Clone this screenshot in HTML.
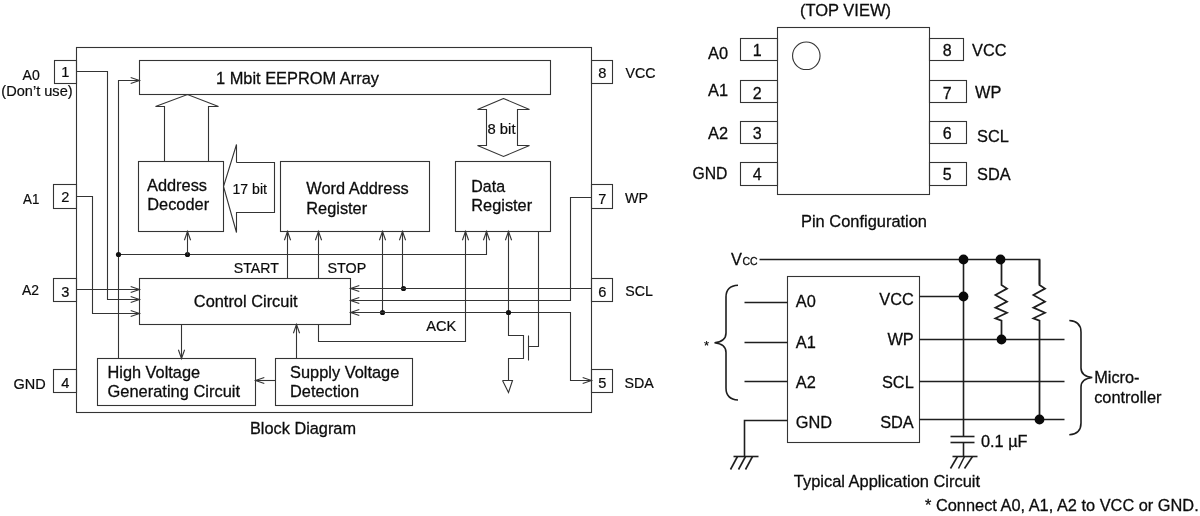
<!DOCTYPE html>
<html><head><meta charset="utf-8"><title>Block Diagram / Pin Configuration</title>
<style>
html,body{margin:0;padding:0;background:#fff;}
body{width:1200px;height:516px;overflow:hidden;}
svg{display:block;filter:blur(0.3px);}
svg text{font-family:"Liberation Sans",Arial,Helvetica,sans-serif;}
</style></head><body>
<svg width="1200" height="516" viewBox="0 0 1200 516">
<rect width="1200" height="516" fill="#ffffff"/>
<rect x="76.5" y="47.5" width="515.0" height="365.0" fill="none" stroke="#343434" stroke-width="1.1"/>
<rect x="54.5" y="60.5" width="22.0" height="23.0" fill="none" stroke="#343434" stroke-width="1.1"/>
<text x="65.2" y="77.4" font-size="14.6" text-anchor="middle" fill="#0c0c0c" stroke="#0c0c0c" stroke-width="0.2" >1</text>
<rect x="53.5" y="184.5" width="23.0" height="24.0" fill="none" stroke="#343434" stroke-width="1.1"/>
<text x="65.2" y="202.29999999999998" font-size="14.6" text-anchor="middle" fill="#0c0c0c" stroke="#0c0c0c" stroke-width="0.2" >2</text>
<rect x="53.5" y="278.5" width="23.0" height="23.0" fill="none" stroke="#343434" stroke-width="1.1"/>
<text x="65.2" y="297.4" font-size="14.6" text-anchor="middle" fill="#0c0c0c" stroke="#0c0c0c" stroke-width="0.2" >3</text>
<rect x="53.5" y="369.5" width="23.0" height="23.0" fill="none" stroke="#343434" stroke-width="1.1"/>
<text x="65.2" y="388.45" font-size="14.6" text-anchor="middle" fill="#0c0c0c" stroke="#0c0c0c" stroke-width="0.2" >4</text>
<rect x="591.5" y="60.5" width="21.0" height="23.0" fill="none" stroke="#343434" stroke-width="1.1"/>
<text x="602.2" y="77.7" font-size="14.6" text-anchor="middle" fill="#0c0c0c" stroke="#0c0c0c" stroke-width="0.2" >8</text>
<rect x="591.5" y="184.5" width="21.0" height="24.0" fill="none" stroke="#343434" stroke-width="1.1"/>
<text x="602.2" y="203.95" font-size="14.6" text-anchor="middle" fill="#0c0c0c" stroke="#0c0c0c" stroke-width="0.2" >7</text>
<rect x="591.5" y="278.5" width="21.0" height="23.0" fill="none" stroke="#343434" stroke-width="1.1"/>
<text x="602.2" y="297.15" font-size="14.6" text-anchor="middle" fill="#0c0c0c" stroke="#0c0c0c" stroke-width="0.2" >6</text>
<rect x="591.5" y="369.5" width="21.0" height="23.0" fill="none" stroke="#343434" stroke-width="1.1"/>
<text x="602.2" y="387.75" font-size="14.6" text-anchor="middle" fill="#0c0c0c" stroke="#0c0c0c" stroke-width="0.2" >5</text>
<text x="22.6" y="79.8" font-size="14.3" text-anchor="start" fill="#0c0c0c" stroke="#0c0c0c" stroke-width="0.2" textLength="17.2" lengthAdjust="spacingAndGlyphs" >A0</text>
<text x="1.3" y="96.4" font-size="14.3" text-anchor="start" fill="#0c0c0c" stroke="#0c0c0c" stroke-width="0.2" textLength="71.3" lengthAdjust="spacingAndGlyphs" >(Don’t use)</text>
<text x="23" y="203.6" font-size="14.3" text-anchor="start" fill="#0c0c0c" stroke="#0c0c0c" stroke-width="0.2" textLength="16.3" lengthAdjust="spacingAndGlyphs" >A1</text>
<text x="22" y="294.5" font-size="14.3" text-anchor="start" fill="#0c0c0c" stroke="#0c0c0c" stroke-width="0.2" textLength="17" lengthAdjust="spacingAndGlyphs" >A2</text>
<text x="13.6" y="388.6" font-size="14.3" text-anchor="start" fill="#0c0c0c" stroke="#0c0c0c" stroke-width="0.2" textLength="32.2" lengthAdjust="spacingAndGlyphs" >GND</text>
<text x="625.5" y="77.7" font-size="14.3" text-anchor="start" fill="#0c0c0c" stroke="#0c0c0c" stroke-width="0.2" textLength="30" lengthAdjust="spacingAndGlyphs" >VCC</text>
<text x="625" y="202.6" font-size="14.3" text-anchor="start" fill="#0c0c0c" stroke="#0c0c0c" stroke-width="0.2" >WP</text>
<text x="625.3" y="295.5" font-size="14.3" text-anchor="start" fill="#0c0c0c" stroke="#0c0c0c" stroke-width="0.2" textLength="27.6" lengthAdjust="spacingAndGlyphs" >SCL</text>
<text x="624.5" y="388.3" font-size="14.3" text-anchor="start" fill="#0c0c0c" stroke="#0c0c0c" stroke-width="0.2" textLength="29.3" lengthAdjust="spacingAndGlyphs" >SDA</text>
<rect x="139.5" y="60.5" width="411.0" height="34.0" fill="none" stroke="#343434" stroke-width="1.1"/>
<rect x="138.5" y="161.5" width="85.0" height="70.0" fill="none" stroke="#343434" stroke-width="1.1"/>
<rect x="280.5" y="161.5" width="149.0" height="70.0" fill="none" stroke="#343434" stroke-width="1.1"/>
<rect x="455.5" y="161.5" width="95.0" height="70.0" fill="none" stroke="#343434" stroke-width="1.1"/>
<rect x="139.5" y="278.5" width="211.0" height="46.0" fill="none" stroke="#343434" stroke-width="1.1"/>
<rect x="97.5" y="358.5" width="158.0" height="47.0" fill="none" stroke="#343434" stroke-width="1.1"/>
<rect x="275.5" y="358.5" width="137.0" height="47.0" fill="none" stroke="#343434" stroke-width="1.1"/>
<text x="216" y="83.5" font-size="16.35" text-anchor="start" fill="#0c0c0c" stroke="#0c0c0c" stroke-width="0.28" textLength="163" lengthAdjust="spacingAndGlyphs" >1 Mbit EEPROM Array</text>
<text x="147" y="190.8" font-size="16.35" text-anchor="start" fill="#0c0c0c" stroke="#0c0c0c" stroke-width="0.28" textLength="60" lengthAdjust="spacingAndGlyphs" >Address</text>
<text x="147.3" y="209.7" font-size="16.35" text-anchor="start" fill="#0c0c0c" stroke="#0c0c0c" stroke-width="0.28" textLength="61.8" lengthAdjust="spacingAndGlyphs" >Decoder</text>
<text x="306.3" y="193.5" font-size="16.35" text-anchor="start" fill="#0c0c0c" stroke="#0c0c0c" stroke-width="0.28" textLength="102.5" lengthAdjust="spacingAndGlyphs" >Word Address</text>
<text x="306.3" y="213.5" font-size="16.35" text-anchor="start" fill="#0c0c0c" stroke="#0c0c0c" stroke-width="0.28" textLength="60.8" lengthAdjust="spacingAndGlyphs" >Register</text>
<text x="471.3" y="191.5" font-size="16.35" text-anchor="start" fill="#0c0c0c" stroke="#0c0c0c" stroke-width="0.28" textLength="33.8" lengthAdjust="spacingAndGlyphs" >Data</text>
<text x="471.3" y="211.1" font-size="16.35" text-anchor="start" fill="#0c0c0c" stroke="#0c0c0c" stroke-width="0.28" textLength="60.8" lengthAdjust="spacingAndGlyphs" >Register</text>
<text x="193.8" y="307.1" font-size="16.35" text-anchor="start" fill="#0c0c0c" stroke="#0c0c0c" stroke-width="0.28" textLength="103.8" lengthAdjust="spacingAndGlyphs" >Control Circuit</text>
<text x="107.5" y="377.5" font-size="16.35" text-anchor="start" fill="#0c0c0c" stroke="#0c0c0c" stroke-width="0.28" textLength="92.6" lengthAdjust="spacingAndGlyphs" >High Voltage</text>
<text x="107.5" y="396.8" font-size="16.35" text-anchor="start" fill="#0c0c0c" stroke="#0c0c0c" stroke-width="0.28" textLength="132.5" lengthAdjust="spacingAndGlyphs" >Generating Circuit</text>
<text x="290" y="378.4" font-size="16.35" text-anchor="start" fill="#0c0c0c" stroke="#0c0c0c" stroke-width="0.28" textLength="109.3" lengthAdjust="spacingAndGlyphs" >Supply Voltage</text>
<text x="290" y="397" font-size="16.35" text-anchor="start" fill="#0c0c0c" stroke="#0c0c0c" stroke-width="0.28" >Detection</text>
<text x="233.8" y="272.5" font-size="14.3" text-anchor="start" fill="#0c0c0c" stroke="#0c0c0c" stroke-width="0.2" textLength="45" lengthAdjust="spacingAndGlyphs" >START</text>
<text x="327.5" y="272.5" font-size="14.3" text-anchor="start" fill="#0c0c0c" stroke="#0c0c0c" stroke-width="0.2" textLength="38.8" lengthAdjust="spacingAndGlyphs" >STOP</text>
<text x="426.3" y="331" font-size="14.3" text-anchor="start" fill="#0c0c0c" stroke="#0c0c0c" stroke-width="0.2" textLength="30" lengthAdjust="spacingAndGlyphs" >ACK</text>
<text x="232.5" y="193.5" font-size="14.3" text-anchor="start" fill="#0c0c0c" stroke="#0c0c0c" stroke-width="0.2" textLength="34.5" lengthAdjust="spacingAndGlyphs" >17 bit</text>
<text x="487.5" y="134.4" font-size="14.3" text-anchor="start" fill="#0c0c0c" stroke="#0c0c0c" stroke-width="0.2" textLength="28" lengthAdjust="spacingAndGlyphs" >8 bit</text>
<text x="250" y="433.9" font-size="16.35" text-anchor="start" fill="#0c0c0c" stroke="#0c0c0c" stroke-width="0.28" textLength="106" lengthAdjust="spacingAndGlyphs" >Block Diagram</text>
<path d="M76.5,71.5 L107.5,71.5 L107.5,299.5 L139.5,299.5" fill="none" stroke="#343434" stroke-width="1.1" />
<path d="M130.7,296.4 L139.5,299.5 L130.7,302.6" fill="none" stroke="#343434" stroke-width="1.1" />
<path d="M76.5,196.5 L92.5,196.5 L92.5,313.5 L139.5,313.5" fill="none" stroke="#343434" stroke-width="1.1" />
<path d="M130.7,310.4 L139.5,313.5 L130.7,316.6" fill="none" stroke="#343434" stroke-width="1.1" />
<path d="M76.5,289.5 L139.5,289.5" fill="none" stroke="#343434" stroke-width="1.1" />
<path d="M130.7,286.4 L139.5,289.5 L130.7,292.6" fill="none" stroke="#343434" stroke-width="1.1" />
<path d="M139.5,80.5 L118.5,80.5 L118.5,358.5" fill="none" stroke="#343434" stroke-width="1.1" />
<path d="M130.7,77.4 L139.5,80.5 L130.7,83.6" fill="none" stroke="#343434" stroke-width="1.1" />
<path d="M118.5,254.5 L486.5,254.5 L486.5,231.5" fill="none" stroke="#343434" stroke-width="1.1" />
<path d="M483.4,240.3 L486.5,231.5 L489.6,240.3" fill="none" stroke="#343434" stroke-width="1.1" />
<circle cx="118.5" cy="254.5" r="2.6" fill="#111"/>
<circle cx="187.5" cy="254.5" r="2.6" fill="#111"/>
<path d="M187.5,254.5 L187.5,231.5" fill="none" stroke="#343434" stroke-width="1.1" />
<path d="M184.4,240.3 L187.5,231.5 L190.6,240.3" fill="none" stroke="#343434" stroke-width="1.1" />
<path d="M287.5,278.5 L287.5,231.5" fill="none" stroke="#343434" stroke-width="1.1" />
<path d="M284.4,240.3 L287.5,231.5 L290.6,240.3" fill="none" stroke="#343434" stroke-width="1.1" />
<path d="M318.5,278.5 L318.5,231.5" fill="none" stroke="#343434" stroke-width="1.1" />
<path d="M315.4,240.3 L318.5,231.5 L321.6,240.3" fill="none" stroke="#343434" stroke-width="1.1" />
<path d="M382.5,312.5 L382.5,231.5" fill="none" stroke="#343434" stroke-width="1.1" />
<path d="M379.4,240.3 L382.5,231.5 L385.6,240.3" fill="none" stroke="#343434" stroke-width="1.1" />
<circle cx="382.5" cy="312.5" r="2.6" fill="#111"/>
<path d="M402.5,288.5 L402.5,231.5" fill="none" stroke="#343434" stroke-width="1.1" />
<path d="M399.4,240.3 L402.5,231.5 L405.6,240.3" fill="none" stroke="#343434" stroke-width="1.1" />
<circle cx="403.5" cy="288.5" r="2.6" fill="#111"/>
<path d="M591.5,288.5 L350.5,288.5" fill="none" stroke="#343434" stroke-width="1.1" />
<path d="M359.3,285.4 L350.5,288.5 L359.3,291.6" fill="none" stroke="#343434" stroke-width="1.1" />
<path d="M591.5,197.5 L570.5,197.5 L570.5,300.5 L350.5,300.5" fill="none" stroke="#343434" stroke-width="1.1" />
<path d="M359.3,297.4 L350.5,300.5 L359.3,303.6" fill="none" stroke="#343434" stroke-width="1.1" />
<path d="M350.5,312.5 L570.5,312.5 L570.5,380.5 L591.5,380.5" fill="none" stroke="#343434" stroke-width="1.1" />
<path d="M359.3,309.4 L350.5,312.5 L359.3,315.6" fill="none" stroke="#343434" stroke-width="1.1" />
<path d="M582.7,377.4 L591.5,380.5 L582.7,383.6" fill="none" stroke="#343434" stroke-width="1.1" />
<path d="M318.5,324.5 L318.5,341.5 L465.5,341.5 L465.5,231.5" fill="none" stroke="#343434" stroke-width="1.1" />
<path d="M462.4,240.3 L465.5,231.5 L468.6,240.3" fill="none" stroke="#343434" stroke-width="1.1" />
<path d="M508.5,231.5 L508.5,335.5 L523.5,335.5 L523.5,358.5 L508.5,358.5 L508.5,380.5" fill="none" stroke="#343434" stroke-width="1.1" />
<path d="M505.4,240.3 L508.5,231.5 L511.6,240.3" fill="none" stroke="#343434" stroke-width="1.1" />
<circle cx="508.5" cy="312.5" r="2.6" fill="#111"/>
<path d="M528.5,335.5 L528.5,360.5" fill="none" stroke="#343434" stroke-width="1.1" />
<path d="M528.5,346.5 L538.5,346.5 L538.5,231.5" fill="none" stroke="#343434" stroke-width="1.1" />
<path d="M502.5,380.5 L512.5,380.5 L508.5,392.5 L502.5,380.5" fill="none" stroke="#343434" stroke-width="1.1" />
<path d="M181.5,324.5 L181.5,358.5" fill="none" stroke="#343434" stroke-width="1.1" />
<path d="M178.4,349.7 L181.5,358.5 L184.6,349.7" fill="none" stroke="#343434" stroke-width="1.1" />
<path d="M296.5,358.5 L296.5,324.5" fill="none" stroke="#343434" stroke-width="1.1" />
<path d="M293.4,333.3 L296.5,324.5 L299.6,333.3" fill="none" stroke="#343434" stroke-width="1.1" />
<path d="M275.5,380.5 L255.5,380.5" fill="none" stroke="#343434" stroke-width="1.1" />
<path d="M264.3,377.4 L255.5,380.5 L264.3,383.6" fill="none" stroke="#343434" stroke-width="1.1" />
<path d="M164.5,161.5 L164.5,106.5 L155.5,106.5 L187.5,94.5 L218.5,106.5 L208.5,106.5 L208.5,161.5" fill="none" stroke="#343434" stroke-width="1.1" />
<path d="M236.5,162.5 L274.5,162.5 L274.5,212.5 L236.5,212.5 L236.5,232.5 L223.5,186.5 L236.5,144.5 L236.5,162.5" fill="none" stroke="#343434" stroke-width="1.1" />
<path d="M503.5,98.5 L529.5,109.5 L517.5,109.5 L517.5,145.5 L529.5,145.5 L503.5,156.5 L477.5,145.5 L486.5,145.5 L486.5,109.5 L477.5,109.5 L503.5,98.5" fill="none" stroke="#343434" stroke-width="1.1" />
<rect x="777.5" y="27.5" width="152.0" height="167.0" fill="none" stroke="#343434" stroke-width="1.1"/>
<rect x="740.5" y="38.5" width="37.0" height="22.0" fill="none" stroke="#343434" stroke-width="1.1"/>
<text x="757.3" y="56.15" font-size="16" text-anchor="middle" fill="#0c0c0c" stroke="#0c0c0c" stroke-width="0.28" >1</text>
<rect x="740.5" y="80.5" width="37.0" height="22.0" fill="none" stroke="#343434" stroke-width="1.1"/>
<text x="757.3" y="98.55" font-size="16" text-anchor="middle" fill="#0c0c0c" stroke="#0c0c0c" stroke-width="0.28" >2</text>
<rect x="740.5" y="121.5" width="37.0" height="22.0" fill="none" stroke="#343434" stroke-width="1.1"/>
<text x="757.3" y="139.04999999999998" font-size="16" text-anchor="middle" fill="#0c0c0c" stroke="#0c0c0c" stroke-width="0.28" >3</text>
<rect x="740.5" y="162.5" width="37.0" height="23.0" fill="none" stroke="#343434" stroke-width="1.1"/>
<text x="757.3" y="179.55" font-size="16" text-anchor="middle" fill="#0c0c0c" stroke="#0c0c0c" stroke-width="0.28" >4</text>
<rect x="929.5" y="38.5" width="34.0" height="22.0" fill="none" stroke="#343434" stroke-width="1.1"/>
<text x="947.2" y="55.95" font-size="16" text-anchor="middle" fill="#0c0c0c" stroke="#0c0c0c" stroke-width="0.28" >8</text>
<rect x="929.5" y="80.5" width="37.0" height="22.0" fill="none" stroke="#343434" stroke-width="1.1"/>
<text x="947.2" y="98.55" font-size="16" text-anchor="middle" fill="#0c0c0c" stroke="#0c0c0c" stroke-width="0.28" >7</text>
<rect x="929.5" y="121.5" width="37.0" height="22.0" fill="none" stroke="#343434" stroke-width="1.1"/>
<text x="947.2" y="139.04999999999998" font-size="16" text-anchor="middle" fill="#0c0c0c" stroke="#0c0c0c" stroke-width="0.28" >6</text>
<rect x="929.5" y="162.5" width="37.0" height="23.0" fill="none" stroke="#343434" stroke-width="1.1"/>
<text x="947.2" y="180.15" font-size="16" text-anchor="middle" fill="#0c0c0c" stroke="#0c0c0c" stroke-width="0.28" >5</text>
<circle cx="806.3" cy="55.8" r="13.75" fill="none" stroke="#343434" stroke-width="1.1"/>
<text x="800" y="16" font-size="16.35" text-anchor="start" fill="#0c0c0c" stroke="#0c0c0c" stroke-width="0.28" textLength="91" lengthAdjust="spacingAndGlyphs" >(TOP VIEW)</text>
<text x="708" y="58.6" font-size="16.35" text-anchor="start" fill="#0c0c0c" stroke="#0c0c0c" stroke-width="0.28" textLength="20" lengthAdjust="spacingAndGlyphs" >A0</text>
<text x="708" y="96.3" font-size="16.35" text-anchor="start" fill="#0c0c0c" stroke="#0c0c0c" stroke-width="0.28" >A1</text>
<text x="708" y="138.8" font-size="16.35" text-anchor="start" fill="#0c0c0c" stroke="#0c0c0c" stroke-width="0.28" >A2</text>
<text x="692.5" y="179.3" font-size="16.35" text-anchor="start" fill="#0c0c0c" stroke="#0c0c0c" stroke-width="0.28" textLength="35" lengthAdjust="spacingAndGlyphs" >GND</text>
<text x="972" y="56.3" font-size="16.35" text-anchor="start" fill="#0c0c0c" stroke="#0c0c0c" stroke-width="0.28" >VCC</text>
<text x="975" y="98.3" font-size="16.35" text-anchor="start" fill="#0c0c0c" stroke="#0c0c0c" stroke-width="0.28" >WP</text>
<text x="977" y="142" font-size="16.35" text-anchor="start" fill="#0c0c0c" stroke="#0c0c0c" stroke-width="0.28" >SCL</text>
<text x="977" y="180" font-size="16.35" text-anchor="start" fill="#0c0c0c" stroke="#0c0c0c" stroke-width="0.28" >SDA</text>
<text x="801" y="227.2" font-size="16.35" text-anchor="start" fill="#0c0c0c" stroke="#0c0c0c" stroke-width="0.28" textLength="126" lengthAdjust="spacingAndGlyphs" >Pin Configuration</text>
<rect x="787.5" y="276.5" width="132.0" height="166.0" fill="none" stroke="#343434" stroke-width="1.1"/>
<path d="M759.5,259.5 L1039.5,259.5 L1039.5,284.5" fill="none" stroke="#1e1e1e" stroke-width="1.6" />
<path d="M963.5,259.5 L963.5,436.5" fill="none" stroke="#1e1e1e" stroke-width="1.6" />
<path d="M950.5,436.5 L974.5,436.5" fill="none" stroke="#1e1e1e" stroke-width="1.6" />
<path d="M950.5,442.5 L974.5,442.5" fill="none" stroke="#1e1e1e" stroke-width="1.6" />
<path d="M963.5,442.5 L963.5,456.5" fill="none" stroke="#1e1e1e" stroke-width="1.6" />
<path d="M952.5,456.5 L977.5,456.5" fill="none" stroke="#1e1e1e" stroke-width="1.6" />
<path d="M957.5,456.5 L950.5,468.5" fill="none" stroke="#1e1e1e" stroke-width="1.6" />
<path d="M964.5,456.5 L958.5,468.5" fill="none" stroke="#1e1e1e" stroke-width="1.6" />
<path d="M972.5,456.5 L964.5,468.5" fill="none" stroke="#1e1e1e" stroke-width="1.6" />
<path d="M919.5,296.5 L963.5,296.5" fill="none" stroke="#1e1e1e" stroke-width="1.6" />
<path d="M919.5,339.5 L1064.5,339.5" fill="none" stroke="#1e1e1e" stroke-width="1.6" />
<path d="M919.5,381.5 L1064.5,381.5" fill="none" stroke="#1e1e1e" stroke-width="1.6" />
<path d="M919.5,419.5 L1064.5,419.5" fill="none" stroke="#1e1e1e" stroke-width="1.6" />
<path d="M744.5,302.5 L787.5,302.5" fill="none" stroke="#1e1e1e" stroke-width="1.6" />
<path d="M744.5,342.5 L787.5,342.5" fill="none" stroke="#1e1e1e" stroke-width="1.6" />
<path d="M744.5,381.5 L787.5,381.5" fill="none" stroke="#1e1e1e" stroke-width="1.6" />
<path d="M787.5,420.5 L744.5,420.5 L744.5,456.5" fill="none" stroke="#1e1e1e" stroke-width="1.6" />
<path d="M733.5,456.5 L758.5,456.5" fill="none" stroke="#1e1e1e" stroke-width="1.6" />
<path d="M737.5,456.5 L730.5,469.5" fill="none" stroke="#1e1e1e" stroke-width="1.6" />
<path d="M745.5,456.5 L738.5,469.5" fill="none" stroke="#1e1e1e" stroke-width="1.6" />
<path d="M752.5,456.5 L745.5,469.5" fill="none" stroke="#1e1e1e" stroke-width="1.6" />
<path d="M1001.5,259.5 L1001.5,285.1 L1007.0,288.6 L995.4,295 L1007.0,301.6 L995.4,307.6 L1007.0,312.8 L995.4,318.3 L1001.5,320.6 L1001.5,339.5" fill="none" stroke="#1e1e1e" stroke-width="1.75" stroke-linejoin="miter"/>
<path d="M1039.5,259.5 L1039.5,285.1 L1045.0,288.6 L1033.4,295 L1045.0,301.6 L1033.4,307.6 L1045.0,312.8 L1033.4,318.3 L1039.5,320.6 L1039.5,419.25" fill="none" stroke="#1e1e1e" stroke-width="1.75" stroke-linejoin="miter"/>
<circle cx="963.5" cy="259.5" r="4.9" fill="#0a0a0a"/>
<circle cx="1000.5" cy="259.5" r="4.9" fill="#0a0a0a"/>
<circle cx="963.5" cy="296.5" r="4.9" fill="#0a0a0a"/>
<circle cx="1001.5" cy="339.5" r="4.9" fill="#0a0a0a"/>
<circle cx="1039.5" cy="419.5" r="4.9" fill="#0a0a0a"/>
<path d="M738,285.2 C730,285.6 726,289 726,297 L726,333 C726,339 722,342 714.5,342.8 C722,343.6 726,346.5 726,352.5 L726,388 C726,396 730,399.6 738,400" fill="none" stroke="#1e1e1e" stroke-width="1.6"/>
<path d="M1069.3,320.5 C1077,321 1081,324 1081,332 L1081,368 C1081,374 1085,376.7 1092.3,377.5 C1085,378.3 1081,381 1081,387 L1081,423 C1081,431 1077,434.3 1069.3,434.8" fill="none" stroke="#1e1e1e" stroke-width="1.6"/>
<text x="704" y="350.2" font-size="13" text-anchor="start" fill="#0c0c0c" stroke="#0c0c0c" stroke-width="0.2" >*</text>
<text x="795.75" y="306.9" font-size="16.35" text-anchor="start" fill="#0c0c0c" stroke="#0c0c0c" stroke-width="0.28" >A0</text>
<text x="795.75" y="347.5" font-size="16.35" text-anchor="start" fill="#0c0c0c" stroke="#0c0c0c" stroke-width="0.28" >A1</text>
<text x="795.75" y="388" font-size="16.35" text-anchor="start" fill="#0c0c0c" stroke="#0c0c0c" stroke-width="0.28" >A2</text>
<text x="795.75" y="428.1" font-size="16.35" text-anchor="start" fill="#0c0c0c" stroke="#0c0c0c" stroke-width="0.28" >GND</text>
<text x="913.75" y="305" font-size="16.35" text-anchor="end" fill="#0c0c0c" stroke="#0c0c0c" stroke-width="0.28" >VCC</text>
<text x="913.75" y="345.4" font-size="16.35" text-anchor="end" fill="#0c0c0c" stroke="#0c0c0c" stroke-width="0.28" >WP</text>
<text x="913.75" y="387.5" font-size="16.35" text-anchor="end" fill="#0c0c0c" stroke="#0c0c0c" stroke-width="0.28" >SCL</text>
<text x="913.75" y="427.8" font-size="16.35" text-anchor="end" fill="#0c0c0c" stroke="#0c0c0c" stroke-width="0.28" >SDA</text>
<text x="731" y="264.5" font-size="16.35" fill="#0c0c0c" stroke="#0c0c0c" stroke-width="0.28">V<tspan font-size="10.5" dx="0.5">CC</tspan></text>
<text x="1094.2" y="383" font-size="16.35" text-anchor="start" fill="#0c0c0c" stroke="#0c0c0c" stroke-width="0.28" textLength="45.3" lengthAdjust="spacingAndGlyphs" >Micro-</text>
<text x="1094.2" y="402.5" font-size="16.35" text-anchor="start" fill="#0c0c0c" stroke="#0c0c0c" stroke-width="0.28" textLength="67.3" lengthAdjust="spacingAndGlyphs" >controller</text>
<text x="981" y="447" font-size="16.35" text-anchor="start" fill="#0c0c0c" stroke="#0c0c0c" stroke-width="0.28" textLength="46.5" lengthAdjust="spacingAndGlyphs" >0.1 µF</text>
<text x="793.8" y="487" font-size="16.35" text-anchor="start" fill="#0c0c0c" stroke="#0c0c0c" stroke-width="0.28" textLength="186.2" lengthAdjust="spacingAndGlyphs" >Typical Application Circuit</text>
<text x="925" y="510.75" font-size="16.35" text-anchor="start" fill="#0c0c0c" stroke="#0c0c0c" stroke-width="0.28" textLength="273.75" lengthAdjust="spacingAndGlyphs" >* Connect A0, A1, A2 to VCC or GND.</text>
</svg>
</body></html>
